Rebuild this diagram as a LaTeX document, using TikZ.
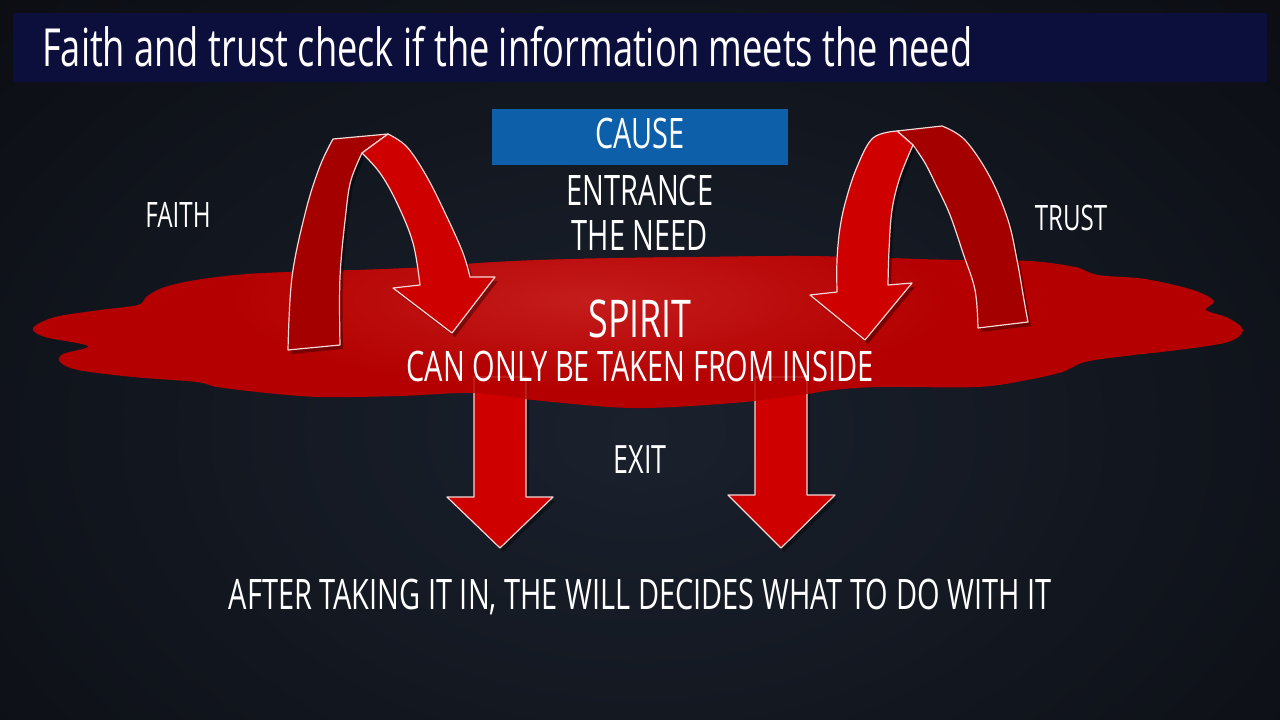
\documentclass[tikz,border=0pt]{standalone}
\usepackage{fontspec}
\newfontfamily\cond[FakeStretch=0.69]{Open Sans}
\definecolor{bgin}{HTML}{1A212D}
\definecolor{bgout}{HTML}{08090D}
\definecolor{titlebg}{HTML}{0C0F3C}
\definecolor{causeblue}{HTML}{0C5FA8}
\definecolor{pud}{HTML}{B40000}
\definecolor{pudhi}{HTML}{C41C1C}
\definecolor{front}{HTML}{CF0000}
\definecolor{back}{HTML}{A50000}
\definecolor{edge}{HTML}{F6D6D6}
\tikzset{
  txt/.style={text=white, inner sep=0pt, font=\cond\fontsize{42}{44}\selectfont},
  frontband/.style={fill=front, draw=edge, line width=1.2pt, line join=round},
  backband/.style={fill=back, draw=edge, line width=1.2pt, line join=round},
  shadowed/.style={preaction={fill=black, opacity=0.35, transform canvas={shift={(3pt,-4pt)}}}},
}
\begin{document}
\begin{tikzpicture}[x=1pt,y=-1pt]
\useasboundingbox (0,0) rectangle (1280,720);
\clip (0,0) rectangle (1280,720);
% background
\fill[bgout] (0,0) rectangle (1280,720);
\shade[inner color=bgin, outer color=bgout] (640,430) ellipse (1100 and 760);
% title bar
\fill[titlebg] (13,13) rectangle (1267,82);
\node[txt, anchor=base west, font=\cond\fontsize{52.5}{54}\selectfont] (title) at (42,66)
  {Faith and trust check if the information meets the need};
% cause box
\node[fill=causeblue, minimum width=296pt, minimum height=56pt, inner sep=0pt] (causebox) at (640,137) {};
% puddle
\path[save path=\puddle] plot[smooth cycle, tension=0.55] coordinates {
 (33,328) (55,317) (100,310) (138,305) (146,297) (162,288) (190,281) (235,275) (290,272)
 (360,270) (430,267) (480,263) (540,260) (620,258) (700,257) (800,256) (880,258) (960,260)
 (1030,261) (1075,267) (1098,275) (1145,279) (1193,290) (1214,301) (1206,310) (1228,318)
 (1243,330) (1228,342) (1178,350) (1125,356) (1085,362) (1062,372) (1027,380) (977,387)
 (880,387) (833,390) (800,395) (733,403) (633,408) (533,400) (473,393) (400,396) (320,397)
 (267,393) (217,387) (197,382) (133,377) (78,370) (60,362) (63,354) (88,346) (45,337)};
\fill[pud, use path=\puddle];
\begin{scope}
  \clip[use path=\puddle];
  \shade[inner color=pudhi, outer color=pud] (590,300) ellipse (360 and 90);
\end{scope}
% exit arrows
\filldraw[frontband, shadowed] (474,377) -- (526,377) -- (526,497) -- (553,497) -- (500,548)
  -- (447,497) -- (474,497) -- cycle;
\filldraw[frontband, shadowed] (755,377) -- (807,377) -- (807,495) -- (835,495) -- (781,548)
  -- (728,495) -- (755,495) -- cycle;
\begin{scope}
  \clip (468,360) rectangle (532,420) (749,360) rectangle (813,420);
  \fill[pud, opacity=0.8, use path=\puddle];
\end{scope}
% faith arrow
\filldraw[backband, shadowed] plot[smooth, tension=0.6] coordinates {(288,350) (292,277) (306,210) (320,166) (333,139)}
  -- (388,134) -- (362,153)
  -- plot[smooth, tension=0.6] coordinates {(362,153) (351,180) (346,212) (340,277) (340,345)} -- cycle;
\filldraw[frontband, shadowed] plot[smooth, tension=0.6] coordinates {(388,134) (407,147) (427,177) (447,217) (463,253) (470,277)}
  -- (495,277) -- (452,333) -- (393,288) -- (420,285)
  -- plot[smooth, tension=0.6] coordinates {(420,285) (413,243) (397,203) (380,173) (362,153)} -- cycle;
% trust arrow
\filldraw[backband, shadowed] (897,131) -- plot[smooth, tension=0.6] coordinates {(942,126) (965,140) (990,177) (1008,220) (1017,260) (1024,300) (1028,322)}
  -- (978,328)
  -- plot[smooth, tension=0.6] coordinates {(978,328) (975,290) (963,253) (950,215) (937,187) (925,163) (913,145)} -- cycle;
\filldraw[frontband, shadowed] plot[smooth, tension=0.6] coordinates {(897,131) (873,138) (857,167) (846,200) (840,228) (837,260) (837,292)}
  -- (810,295) -- (865,340) -- (912,283) -- (888,285)
  -- plot[smooth, tension=0.6] coordinates {(888,285) (889,250) (892,210) (900,177) (913,145)} -- cycle;
% texts
\node[txt, anchor=base] (cause) at (640,148) {CAUSE};
\node[txt, anchor=base] (entrance) at (640,205) {ENTRANCE};
\node[txt, anchor=base] (need) at (640,250) {THE NEED};
\node[txt, anchor=base, font=\cond\fontsize{35}{37}\selectfont] (faith) at (178,227) {FAITH};
\node[txt, anchor=base, font=\cond\fontsize{35}{37}\selectfont] (trust) at (1071,230) {TRUST};
\node[txt, anchor=base, font=\cond\fontsize{52}{54}\selectfont] (spirit) at (640,337) {SPIRIT};
\node[txt, anchor=base] (inside) at (640,381) {CAN ONLY BE TAKEN FROM INSIDE};
\node[txt, anchor=base, font=\cond\fontsize{39}{41}\selectfont] (exit) at (640,473) {EXIT};
\node[txt, anchor=base] (after) at (640,609) {AFTER TAKING IT IN, THE WILL DECIDES WHAT TO DO WITH IT};
\end{tikzpicture}
\end{document}
